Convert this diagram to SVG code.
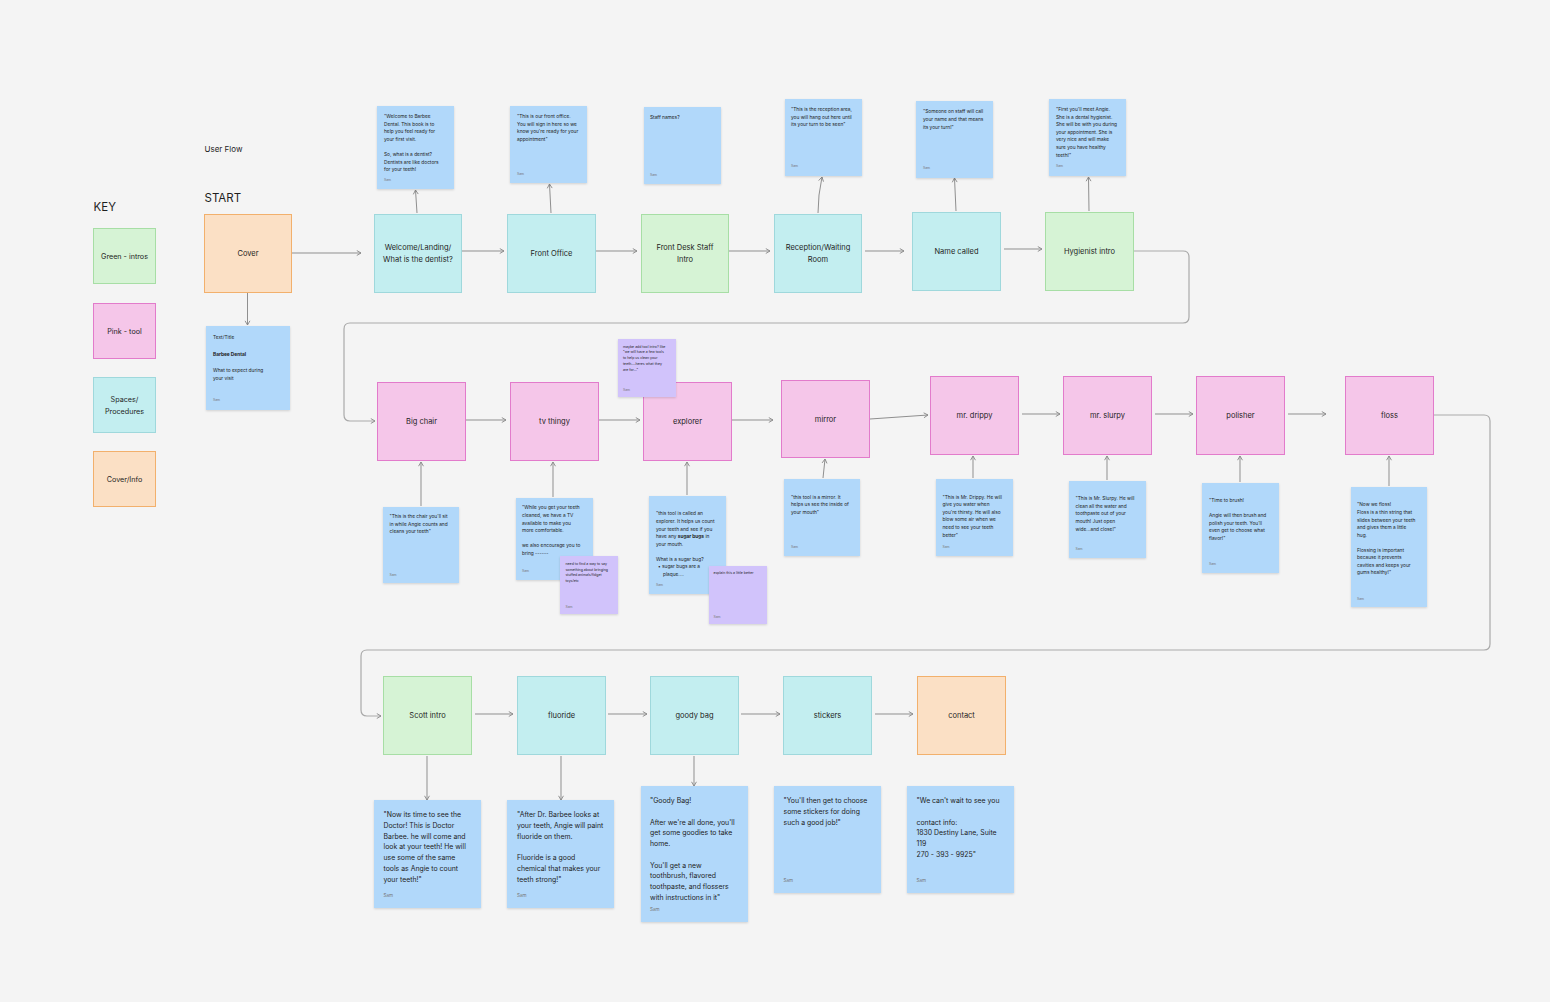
<svg xmlns="http://www.w3.org/2000/svg" width="1550" height="1002" viewBox="0 0 1550 1002">
<defs>
<style>
text{font-family:Inter,"Noto Sans","Liberation Sans",sans-serif;fill:#1e1e1e}
.nl{font-size:7.5px;text-anchor:middle}
.kl{font-size:7.2px;text-anchor:middle}
.cy{fill:#c3eef0;stroke:#9fd8dc;stroke-width:1}
.gr{fill:#d6f3d5;stroke:#a7dea5;stroke-width:1}
.pk{fill:#f5c6e9;stroke:#e27bcb;stroke-width:1}
.or{fill:#fbe0c5;stroke:#f2b06c;stroke-width:1}
.nb{fill:#b1d8fa;filter:url(#sh)}
.np{fill:#d1c3fb;filter:url(#sh)}
.s{font-size:4.8px}
.p{font-size:3.5px}
.m{font-size:6.9px}
.sam{font-size:3.4px;fill:#777}
.samm{font-size:4.6px;fill:#777}
.c{fill:none;stroke:#8f8f8f;stroke-width:1;marker-end:url(#a)}
.c2{fill:none;stroke:#a9a9a9;stroke-width:1.2;marker-end:url(#a)}
</style>
<filter id="sh" x="-10%" y="-10%" width="120%" height="125%"><feDropShadow dx="0" dy="1" stdDeviation="0.8" flood-color="#000" flood-opacity="0.15"/></filter>
<marker id="a" viewBox="0 0 10 10" refX="9" refY="5" markerWidth="7" markerHeight="7" markerUnits="userSpaceOnUse" orient="auto"><path d="M3 1.5 L9 5 L3 8.5" fill="none" stroke="#888" stroke-width="1.3"/></marker>
</defs>
<rect width="1550" height="1002" fill="#f4f4f4"/>

<text x="204.5" y="151.5" style="font-size:8px">User Flow</text>
<text x="204.5" y="201.5" style="font-size:11.5px">START</text>
<text x="93.5" y="210.5" style="font-size:11.5px">KEY</text>

<g id="key-green"><rect class="gr" x="93.5" y="228.5" width="62" height="55"/><text class="kl" x="124.5" y="259">Green - intros</text></g>
<g id="key-pink"><rect class="pk" x="93.5" y="303.5" width="62" height="55"/><text class="kl" x="124.5" y="333.5">Pink - tool</text></g>
<g id="key-spaces"><rect class="cy" x="93.5" y="377.5" width="62" height="55"/><text class="kl" x="124.5" y="401.5">Spaces/</text><text class="kl" x="124.5" y="413.5">Procedures</text></g>
<g id="key-cover"><rect class="or" x="93.5" y="451.5" width="62" height="55"/><text class="kl" x="124.5" y="482">Cover/Info</text></g>

<g id="connectors">
<path class="c" d="M291.5 253 H361"/>
<path class="c" d="M247.5 293 V325"/>
<path class="c" d="M461.5 251 H504"/>
<path class="c" d="M595.5 251 H637"/>
<path class="c" d="M728.5 251 H770"/>
<path class="c" d="M865 251 H904"/>
<path class="c" d="M1004 249 H1042"/>
<path class="c" d="M417 213 L415.5 190"/>
<path class="c" d="M551 213 L549.5 184"/>
<path class="c" d="M818 213 Q818 195 822 177"/>
<path class="c" d="M956 211 L954.5 178"/>
<path class="c" d="M1089 211 L1088.5 177"/>
<path class="c2" d="M1133 251 H1183 Q1189 251 1189 257 V317 Q1189 323 1183 323 H350 Q344 323 344 329 V415 Q344 421 350 421 H375"/>
<path class="c" d="M465.5 420 H506"/>
<path class="c" d="M598.5 420 H640"/>
<path class="c" d="M731.5 420 H773"/>
<path class="c" d="M870 419 L928 415"/>
<path class="c" d="M1022 414 H1060"/>
<path class="c" d="M1155 414 H1193"/>
<path class="c" d="M1288 414 H1326"/>
<path class="c" d="M421 506 V462"/>
<path class="c" d="M553 497 V462"/>
<path class="c" d="M687 495 V462"/>
<path class="c" d="M823 478 L825 459"/>
<path class="c" d="M973 478 V456"/>
<path class="c" d="M1107 480 V456"/>
<path class="c" d="M1240 482 V456"/>
<path class="c" d="M1389 486 V456"/>
<path class="c2" d="M1433 415 H1484 Q1490 415 1490 421 V644 Q1490 650 1484 650 H367 Q361 650 361 656 V710 Q361 716 367 716 H381"/>
<path class="c" d="M475 714 H513"/>
<path class="c" d="M608 714 H647"/>
<path class="c" d="M741 714 H780"/>
<path class="c" d="M875 714 H913"/>
<path class="c" d="M427 756 V800"/>
<path class="c" d="M561 756 V800"/>
<path class="c" d="M694 756 V786"/>
</g>

<g id="cover"><rect class="or" x="204.5" y="214.5" width="87" height="78"/><text class="nl" x="248" y="256">Cover</text></g>
<g id="note-cover"><rect class="nb" x="206" y="326" width="84" height="84"/>
<text class="s" x="213"><tspan x="213" y="339">Text/Title</tspan><tspan x="213" y="355.5" font-weight="bold">Barbee Dental</tspan><tspan x="213" y="372">What to expect during</tspan><tspan x="213" y="380">your visit</tspan></text><text class="sam" x="213" y="401">Sam</text></g>

<g id="welcome"><rect class="cy" x="374.5" y="214.5" width="87" height="78"/><text class="nl" x="418" y="250">Welcome/Landing/</text><text class="nl" x="418" y="262">What is the dentist?</text></g>
<g id="front-office"><rect class="cy" x="507.5" y="214.5" width="88" height="78"/><text class="nl" x="551.5" y="256">Front Office</text></g>
<g id="front-desk"><rect class="gr" x="641.5" y="214.5" width="87" height="78"/><text class="nl" x="685" y="250">Front Desk Staff</text><text class="nl" x="685" y="262">Intro</text></g>
<g id="reception"><rect class="cy" x="774.5" y="214.5" width="87" height="78"/><text class="nl" x="818" y="250">Reception/Waiting</text><text class="nl" x="818" y="262">Room</text></g>
<g id="name-called"><rect class="cy" x="912.5" y="212.5" width="88" height="78"/><text class="nl" x="956.5" y="254">Name called</text></g>
<g id="hygienist"><rect class="gr" x="1045.5" y="212.5" width="88" height="78"/><text class="nl" x="1089.5" y="254">Hygienist intro</text></g>

<g id="note-welcome"><rect class="nb" x="377" y="106" width="77" height="83"/>
<text class="s"><tspan x="384" y="118">"Welcome to Barbee</tspan><tspan x="384" y="125.6">Dental. This book is to</tspan><tspan x="384" y="133.2">help you feel ready for</tspan><tspan x="384" y="140.8">your first visit.</tspan><tspan x="384" y="156">So, what is a dentist?</tspan><tspan x="384" y="163.6">Dentists are like doctors</tspan><tspan x="384" y="171.2">for your teeth!</tspan></text><text class="sam" x="384" y="181">Sam</text></g>
<g id="note-front-office"><rect class="nb" x="510" y="106" width="77" height="77"/>
<text class="s"><tspan x="517" y="118">"This is our front office.</tspan><tspan x="517" y="125.6">You will sign in here so we</tspan><tspan x="517" y="133.2">know you're ready for your</tspan><tspan x="517" y="140.8">appointment"</tspan></text><text class="sam" x="517" y="175">Sam</text></g>
<g id="note-staff"><rect class="nb" x="644" y="107" width="77" height="77"/>
<text class="s"><tspan x="650" y="119">Staff names?</tspan></text><text class="sam" x="650" y="176">Sam</text></g>
<g id="note-reception"><rect class="nb" x="785" y="99" width="77" height="77"/>
<text class="s"><tspan x="791" y="111">"This is the reception area,</tspan><tspan x="791" y="118.6">you will hang out here until</tspan><tspan x="791" y="126.2">its your turn to be seen"</tspan></text><text class="sam" x="791" y="167">Sam</text></g>
<g id="note-name-called"><rect class="nb" x="916" y="101" width="77" height="77"/>
<text class="s"><tspan x="923" y="113.3">"Someone on staff will call</tspan><tspan x="923" y="120.9">your name and that means</tspan><tspan x="923" y="128.5">its your turn!"</tspan></text><text class="sam" x="923" y="169.3">Sam</text></g>
<g id="note-hygienist"><rect class="nb" x="1049" y="99" width="77" height="77"/>
<text class="s"><tspan x="1056" y="111">"First you'll meet Angie.</tspan><tspan x="1056" y="118.6">She is a dental hygienist.</tspan><tspan x="1056" y="126.2">She will be with you during</tspan><tspan x="1056" y="133.8">your appointment. She is</tspan><tspan x="1056" y="141.4">very nice and will make</tspan><tspan x="1056" y="149">sure you have healthy</tspan><tspan x="1056" y="156.6">teeth!"</tspan></text><text class="sam" x="1056" y="166.7">Sam</text></g>

<g id="big-chair"><rect class="pk" x="377.5" y="382.5" width="88" height="78"/><text class="nl" x="421.5" y="424">Big chair</text></g>
<g id="tv-thingy"><rect class="pk" x="510.5" y="382.5" width="88" height="78"/><text class="nl" x="554.5" y="424">tv thingy</text></g>
<g id="explorer"><rect class="pk" x="643.5" y="382.5" width="88" height="78"/><text class="nl" x="687.5" y="424">explorer</text></g>
<g id="mirror"><rect class="pk" x="781.5" y="380.5" width="88" height="77"/><text class="nl" x="825.5" y="422">mirror</text></g>
<g id="mr-drippy"><rect class="pk" x="930.5" y="376.5" width="88" height="78"/><text class="nl" x="974.5" y="418">mr. drippy</text></g>
<g id="mr-slurpy"><rect class="pk" x="1063.5" y="376.5" width="88" height="78"/><text class="nl" x="1107.5" y="418">mr. slurpy</text></g>
<g id="polisher"><rect class="pk" x="1196.5" y="376.5" width="88" height="78"/><text class="nl" x="1240.5" y="418">polisher</text></g>
<g id="floss"><rect class="pk" x="1345.5" y="376.5" width="88" height="78"/><text class="nl" x="1389.5" y="418">floss</text></g>

<g id="note-big-chair"><rect class="nb" x="383" y="507" width="76" height="76"/>
<text class="s"><tspan x="389.5" y="518">"This is the chair you'll sit</tspan><tspan x="389.5" y="525.6">in while Angie counts and</tspan><tspan x="389.5" y="533.2">cleans your teeth"</tspan></text><text class="sam" x="389.5" y="575.5">Sam</text></g>
<g id="note-tv"><rect class="nb" x="516" y="498" width="77" height="82"/>
<text class="s"><tspan x="522" y="509.3">"While you get your teeth</tspan><tspan x="522" y="516.9">cleaned, we have a TV</tspan><tspan x="522" y="524.5">available to make you</tspan><tspan x="522" y="532.1">more comfortable.</tspan><tspan x="522" y="547.3">we also encourage you to</tspan><tspan x="522" y="554.9">bring ------</tspan></text><text class="sam" x="522" y="572.2">Sam</text></g>
<g id="note-tv-purple"><rect class="np" x="560" y="556" width="58" height="58"/>
<text class="p"><tspan x="565.5" y="565">need to find a way to say</tspan><tspan x="565.5" y="570.7">something about bringing</tspan><tspan x="565.5" y="576.4">stuffed animals/fidget</tspan><tspan x="565.5" y="582.1">toys/etc</tspan></text><text class="sam" x="565.5" y="608">Sam</text></g>
<g id="note-tool-intro"><rect class="np" x="618" y="339" width="58" height="58"/>
<text class="p"><tspan x="623" y="347.7">maybe add tool intro? like</tspan><tspan x="623" y="353.4">"we will have a few tools</tspan><tspan x="623" y="359.1">to help us clean your</tspan><tspan x="623" y="364.8">teeth....heres what they</tspan><tspan x="623" y="370.5">are for..."</tspan></text><text class="sam" x="623" y="391">Sam</text></g>
<g id="note-explorer"><rect class="nb" x="649" y="496" width="77" height="98"/>
<text class="s"><tspan x="656" y="515.3">"this tool is called an</tspan><tspan x="656" y="522.9">explorer. It helps us count</tspan><tspan x="656" y="530.5">your teeth and see if you</tspan><tspan x="656" y="538.1">have any <tspan font-weight="bold">sugar bugs</tspan> in</tspan><tspan x="656" y="545.7">your mouth.</tspan><tspan x="656" y="560.5">What is a sugar bug?</tspan><tspan x="658" y="568">•  sugar bugs are a</tspan><tspan x="663" y="575.5">plaque....</tspan></text><text class="sam" x="656" y="585.5">Sam</text></g>
<g id="note-explorer-purple"><rect class="np" x="709" y="566" width="58" height="58"/>
<text class="p"><tspan x="713.5" y="574.3">explain this a little better</tspan></text><text class="sam" x="713.5" y="617.7">Sam</text></g>
<g id="note-mirror"><rect class="nb" x="784" y="479" width="76" height="77"/>
<text class="s"><tspan x="791" y="498.5">"this tool is a mirror. It</tspan><tspan x="791" y="506.1">helps us see the inside of</tspan><tspan x="791" y="513.7">your mouth"</tspan></text><text class="sam" x="791" y="548">Sam</text></g>
<g id="note-drippy"><rect class="nb" x="936" y="479" width="77" height="77"/>
<text class="s"><tspan x="942.5" y="498.5">"This is Mr. Drippy. He will</tspan><tspan x="942.5" y="506.1">give you water when</tspan><tspan x="942.5" y="513.7">you're thirsty. He will also</tspan><tspan x="942.5" y="521.3">blow some air when we</tspan><tspan x="942.5" y="528.9">need to see your teeth</tspan><tspan x="942.5" y="536.5">better"</tspan></text><text class="sam" x="942.5" y="548">Sam</text></g>
<g id="note-slurpy"><rect class="nb" x="1069" y="481" width="77" height="77"/>
<text class="s"><tspan x="1075.5" y="500.2">"This is Mr. Slurpy. He will</tspan><tspan x="1075.5" y="507.8">clean all the water and</tspan><tspan x="1075.5" y="515.4">toothpaste out of your</tspan><tspan x="1075.5" y="523">mouth! Just open</tspan><tspan x="1075.5" y="530.6">wide...and close!"</tspan></text><text class="sam" x="1075.5" y="550">Sam</text></g>
<g id="note-polisher"><rect class="nb" x="1202" y="483" width="77" height="90"/>
<text class="s"><tspan x="1209" y="502">"Time to brush!</tspan><tspan x="1209" y="517.2">Angie will then brush and</tspan><tspan x="1209" y="524.8">polish your teeth. You'll</tspan><tspan x="1209" y="532.4">even get to choose what</tspan><tspan x="1209" y="540">flavor!"</tspan></text><text class="sam" x="1209" y="565">Sam</text></g>
<g id="note-floss"><rect class="nb" x="1351" y="487" width="76" height="120"/>
<text class="s"><tspan x="1357" y="506.3">"Now we floss!</tspan><tspan x="1357" y="513.9">Floss is a thin string that</tspan><tspan x="1357" y="521.5">slides between your teeth</tspan><tspan x="1357" y="529.1">and gives them a little</tspan><tspan x="1357" y="536.7">hug.</tspan><tspan x="1357" y="551.5">Flossing is important</tspan><tspan x="1357" y="559.1">because it prevents</tspan><tspan x="1357" y="566.7">cavities and keeps your</tspan><tspan x="1357" y="574.3">gums healthy!"</tspan></text><text class="sam" x="1357" y="599.5">Sam</text></g>

<g id="scott-intro"><rect class="gr" x="383.5" y="676.5" width="88" height="78"/><text class="nl" x="427.5" y="718">Scott intro</text></g>
<g id="fluoride"><rect class="cy" x="517.5" y="676.5" width="88" height="78"/><text class="nl" x="561.5" y="718">fluoride</text></g>
<g id="goody-bag"><rect class="cy" x="650.5" y="676.5" width="88" height="78"/><text class="nl" x="694.5" y="718">goody bag</text></g>
<g id="stickers"><rect class="cy" x="783.5" y="676.5" width="88" height="78"/><text class="nl" x="827.5" y="718">stickers</text></g>
<g id="contact"><rect class="or" x="917.5" y="676.5" width="88" height="78"/><text class="nl" x="961.5" y="718">contact</text></g>

<g id="note-scott"><rect class="nb" x="374" y="800" width="107" height="108"/>
<text class="m"><tspan x="383.5" y="817.3">"Now its time to see the</tspan><tspan x="383.5" y="828">Doctor! This is Doctor</tspan><tspan x="383.5" y="838.7">Barbee. he will come and</tspan><tspan x="383.5" y="849.4">look at your teeth! He will</tspan><tspan x="383.5" y="860.1">use some of the same</tspan><tspan x="383.5" y="870.8">tools as Angie to count</tspan><tspan x="383.5" y="881.5">your teeth!"</tspan></text><text class="samm" x="383.5" y="896.5">Sam</text></g>
<g id="note-fluoride"><rect class="nb" x="507" y="800" width="107" height="108"/>
<text class="m"><tspan x="517" y="817.3">"After Dr. Barbee looks at</tspan><tspan x="517" y="828">your teeth, Angie will paint</tspan><tspan x="517" y="838.7">fluoride on them.</tspan><tspan x="517" y="860.1">Fluoride is a good</tspan><tspan x="517" y="870.8">chemical that makes your</tspan><tspan x="517" y="881.5">teeth strong!"</tspan></text><text class="samm" x="517" y="896.5">Sam</text></g>
<g id="note-goody"><rect class="nb" x="641" y="786" width="107" height="136"/>
<text class="m"><tspan x="650" y="803.3">"Goody Bag!</tspan><tspan x="650" y="824.7">After we're all done, you'll</tspan><tspan x="650" y="835.4">get some goodies to take</tspan><tspan x="650" y="846.1">home.</tspan><tspan x="650" y="867.5">You'll get a new</tspan><tspan x="650" y="878.2">toothbrush, flavored</tspan><tspan x="650" y="888.9">toothpaste, and flossers</tspan><tspan x="650" y="899.6">with instructions in it"</tspan></text><text class="samm" x="650" y="910.5">Sam</text></g>
<g id="note-stickers"><rect class="nb" x="774" y="786" width="107" height="107"/>
<text class="m"><tspan x="783.5" y="803.3">"You'll then get to choose</tspan><tspan x="783.5" y="814">some stickers for doing</tspan><tspan x="783.5" y="824.7">such a good job!"</tspan></text><text class="samm" x="783.5" y="882">Sam</text></g>
<g id="note-contact"><rect class="nb" x="907" y="786" width="107" height="107"/>
<text class="m"><tspan x="916.5" y="803.3">"We can't wait to see you</tspan><tspan x="916.5" y="824.7">contact info:</tspan><tspan x="916.5" y="835.4">1830 Destiny Lane, Suite</tspan><tspan x="916.5" y="846.1">119</tspan><tspan x="916.5" y="856.8">270 - 393 - 9925"</tspan></text><text class="samm" x="916.5" y="882">Sam</text></g>
</svg>
